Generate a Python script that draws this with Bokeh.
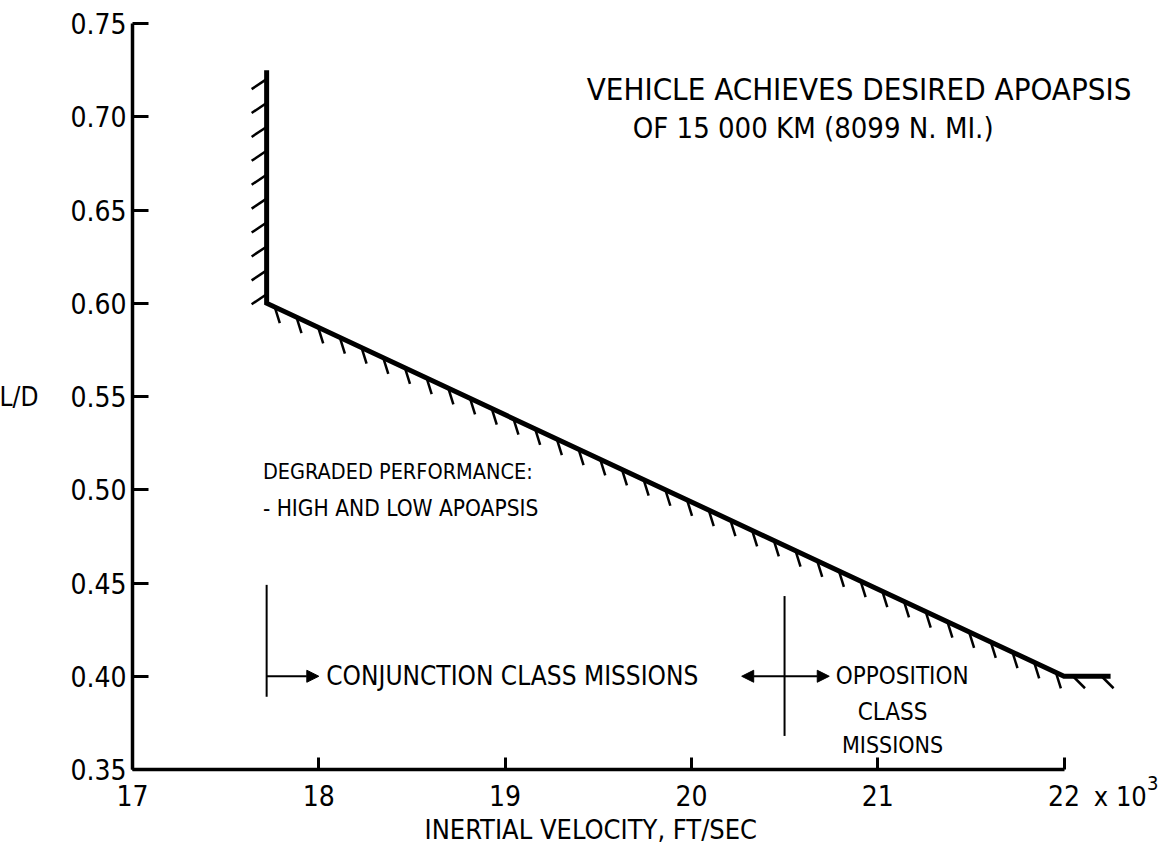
import numpy as np
from bokeh.plotting import figure
from bokeh.models import (Range1d, FixedTicker, PrintfTickFormatter, Label,
                          Arrow, NormalHead)
from bokeh.embed import file_html
from bokeh.resources import INLINE

# --- data -----------------------------------------------------------------
velocity_ticks = [17, 18, 19, 20, 21, 22]          # x 10^3 ft/sec
ld_ticks = [0.35, 0.40, 0.45, 0.50, 0.55, 0.60, 0.65, 0.70, 0.75]

# capture boundary: vertical wall, sloped limit, short flat tail
boundary_velocity = [17.72, 17.72, 22.0, 22.25]
boundary_ld = [0.725, 0.60, 0.40, 0.40]
hatches_per_segment = [10, 37, 2]

# mission class separators
conjunction_start = 17.72
opposition_split = 20.5

FONT = "DejaVu Sans Condensed"
INK = "#000000"

# --- figure geometry: the frame fills the whole page ----------------------
W, H = 1166, 858
AX_LEFT_PX, AX_TOP_PX, AX_BOTTOM_PX = 132, 23, 769
px_per_v = 186.3
px_per_ld = (AX_BOTTOM_PX - AX_TOP_PX) / (ld_ticks[-1] - ld_ticks[0])
X0 = velocity_ticks[0] - AX_LEFT_PX / px_per_v
X1 = velocity_ticks[0] + (W - AX_LEFT_PX) / px_per_v
Y1 = ld_ticks[-1] + AX_TOP_PX / px_per_ld
Y0 = ld_ticks[0] - (H - AX_BOTTOM_PX) / px_per_ld

p = figure(width=W, height=H, output_backend="svg", toolbar_location=None,
           x_range=Range1d(X0, X1), y_range=Range1d(Y0, Y1),
           min_border=0)
p.outline_line_color = None
p.grid.visible = False
p.background_fill_color = "white"
p.border_fill_color = "white"

# axes pinned to the data origin (17, 0.35)
xa = p.xaxis[0]
xa.fixed_location = ld_ticks[0]
xa.ticker = FixedTicker(ticks=velocity_ticks)
xa.bounds = (velocity_ticks[0], velocity_ticks[-1])
xa.axis_line_width = 3.5
xa.major_tick_line_width = 3
xa.major_tick_in = 12
xa.major_tick_out = 0
xa.minor_tick_line_color = None
xa.major_label_standoff = 15
xa.major_label_text_font = FONT
xa.major_label_text_font_size = "28px"
xa.major_label_text_color = INK

ya = p.yaxis[0]
ya.fixed_location = velocity_ticks[0]
ya.ticker = FixedTicker(ticks=ld_ticks)
ya.bounds = (ld_ticks[0], ld_ticks[-1])
ya.formatter = PrintfTickFormatter(format="%.2f")
ya.axis_line_width = 3.5
ya.major_tick_line_width = 3
ya.major_tick_in = 16
ya.major_tick_out = 0
ya.minor_tick_line_color = None
ya.major_label_standoff = 6
ya.major_label_text_font = FONT
ya.major_label_text_font_size = "28px"
ya.major_label_text_color = INK

# boundary line
p.line(boundary_velocity, boundary_ld, line_color=INK, line_width=5,
       line_join="miter")

# hatch ticks along each boundary segment (screen-space offsets in px)
hatch_offsets_px = [(-15, 10), (5, 16), (12, 12)]
hx0, hy0, hx1, hy1 = [], [], [], []
for i, n in enumerate(hatches_per_segment):
    xa_, xb_ = boundary_velocity[i], boundary_velocity[i + 1]
    ya_, yb_ = boundary_ld[i], boundary_ld[i + 1]
    seg_px = np.hypot((xb_ - xa_) * px_per_v, (yb_ - ya_) * px_per_ld)
    pad = 9.0 / seg_px
    t = np.linspace(pad, 1 - pad, n)
    sx = xa_ + t * (xb_ - xa_)
    sy = ya_ + t * (yb_ - ya_)
    ox, oy = hatch_offsets_px[i]
    hx0 += list(sx)
    hy0 += list(sy)
    hx1 += list(sx + ox / px_per_v)
    hy1 += list(sy - oy / px_per_ld)
p.segment(hx0, hy0, hx1, hy1, line_color=INK, line_width=2.5)

# mission class separators
p.segment([conjunction_start, opposition_split], [0.389, 0.368],
          [conjunction_start, opposition_split], [0.449, 0.443],
          line_color=INK, line_width=2)
p.add_layout(Arrow(end=NormalHead(size=12, fill_color=INK, line_color=INK),
                   x_start=conjunction_start, y_start=0.40, x_end=18.0, y_end=0.40,
                   line_width=2, line_color=INK))
p.add_layout(Arrow(start=NormalHead(size=12, fill_color=INK, line_color=INK),
                   end=NormalHead(size=12, fill_color=INK, line_color=INK),
                   x_start=20.27, y_start=0.40, x_end=20.74, y_end=0.40,
                   line_width=2, line_color=INK))


def note(x, y, text, align="left", size="26px", x_offset=0, y_offset=0,
         baseline="middle"):
    p.add_layout(Label(x=x, y=y, text=text, text_align=align,
                       text_baseline=baseline, text_font=FONT,
                       text_font_size=size, text_color=INK,
                       x_offset=x_offset, y_offset=y_offset))


note(20.90, 0.715, "VEHICLE ACHIEVES DESIRED APOAPSIS", align="center", size="31px")
note(19.685, 0.694, "OF 15 000 KM (8099 N. MI.)", size="29px")
note(17.70, 0.510, "DEGRADED PERFORMANCE:", size="21.5px")
note(17.70, 0.490, "- HIGH AND LOW APOAPSIS", size="22.5px")
note(18.04, 0.400, "CONJUNCTION CLASS MISSIONS")
note(20.775, 0.400, "OPPOSITION", size="24px")
note(21.08, 0.381, "CLASS", align="center", size="24px")
note(21.08, 0.363, "MISSIONS", align="center", size="23px")

# axis titles and scale factor
note(19.46, 0.318, "INERTIAL VELOCITY, FT/SEC", align="center", size="27px")
note(16.495, 0.55, "L/D", align="right", size="26px")
note(22.16, 0.3355, "x 10", size="27px")
note(22.445, 0.343, "3", size="20px")

open("out.html", "w").write(file_html(p, INLINE))
